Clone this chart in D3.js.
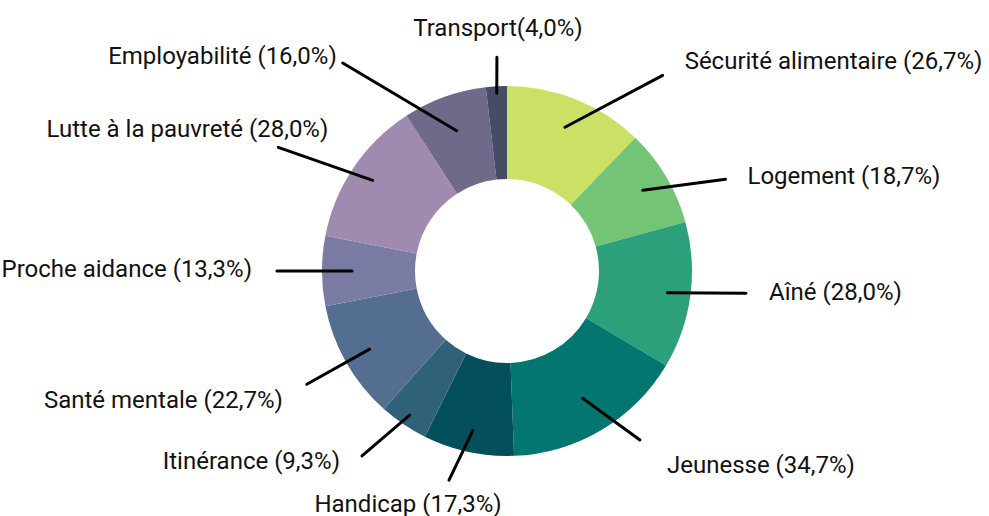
<!DOCTYPE html>
<html>
<head>
<meta charset="utf-8">
<script src="https://cdn.jsdelivr.net/npm/d3@7"></script>
<style>
  body { margin: 0; background: #fff; }
  text { font-family: Roboto, "Noto Sans", sans-serif; }
</style>
</head>
<body>
<div id="donut"></div>
<script>
// categories and their counts (percent of respondents shown in labels)
const categories = ["Sécurité alimentaire", "Logement", "Aîné", "Jeunesse", "Handicap", "Itinérance",
  "Santé mentale", "Proche aidance", "Lutte à la pauvreté", "Employabilité", "Transport"];
const counts = [20, 14, 21, 26, 13, 7, 17, 10, 21, 12, 3];
const percents = [26.7, 18.7, 28.0, 34.7, 17.3, 9.3, 22.7, 13.3, 28.0, 16.0, 4.0];
const colors = ["#cbe166", "#74c476", "#2ca07b", "#037670", "#03505c", "#2f6178",
  "#546e92", "#7a7ba3", "#a18ab0", "#6f6a8a", "#474c66"];

function draw() {
  const width = 989;
  const height = 516;
  const cx = 507, cy = 271;
  const outerR = 185, innerR = 92;

  const svg = d3.select("#donut")
    .append("svg")
    .attr("width", width)
    .attr("height", height)
    .attr("viewBox", [0, 0, width, height]);

  const chart = svg.append("g")
    .attr("transform", `translate(${cx}, ${cy})`);

  const pie = d3.pie().sort(null).value(d => d);
  const arcs = pie(counts);

  const arc = d3.arc().innerRadius(innerR).outerRadius(outerR);

  chart.selectAll("path.slice")
    .data(arcs)
    .join("path")
    .attr("class", "slice")
    .attr("d", arc)
    .attr("fill", (d, i) => colors[i]);

  // label placement: end of leader line (angle in degrees, radius),
  // start radius inside slice, text offset from line end and anchor
  const labelLayout = [
    {a: 38.5, r: 250, r0: 155, dx: 22, dy: -6, anchor: "start"},
    {a: 67.2, r: 237, r0: 158, dx: 22, dy: 5, anchor: "start"},
    {a: 95.3, r: 240, r0: 162, dx: 23, dy: 7, anchor: "start"},
    {a: 141.8, r: 215, r0: 148, dx: 27, dy: 33, anchor: "start"},
    {a: 195.5, r: 217, r0: 163, dx: -41, dy: 32, anchor: "middle"},
    {a: 218.1, r: 235, r0: 174, dx: -22, dy: 13, anchor: "end"},
    {a: 240.5, r: 230, r0: 158, dx: -24, dy: 24, anchor: "end"},
    {a: 270, r: 230, r0: 155, dx: -25, dy: 6, anchor: "end"},
    {a: 298.4, r: 260, r0: 162, dx: 50, dy: -10, anchor: "end"},
    {a: 321.7, r: 265, r0: 149, dx: -6, dy: 1, anchor: "end"},
    {a: 357.3, r: 214, r0: 178, dx: 1, dy: -21, anchor: "middle"}
  ];

  const polar = (deg, r) => {
    const t = deg * Math.PI / 180;
    return [r * Math.sin(t), -r * Math.cos(t)];
  };

  const fmt = v => d3.format(".1f")(v).replace(".", ",") + "%";
  const labelText = (c, i) => `${c}${c === "Transport" ? "" : " "}(${fmt(percents[i])})`;

  const labels = chart.selectAll("g.label")
    .data(arcs)
    .join("g")
    .attr("class", "label");

  labels.append("line")
    .each(function(d, i) {
      const L = labelLayout[i];
      const mid = (d.startAngle + d.endAngle) / 2 * 180 / Math.PI;
      const p0 = polar(mid, L.r0);
      const p1 = polar(L.a, L.r);
      d3.select(this)
        .attr("x1", p0[0]).attr("y1", p0[1])
        .attr("x2", p1[0]).attr("y2", p1[1]);
    })
    .attr("stroke", "#000")
    .attr("stroke-width", 3)
    .attr("stroke-linecap", "round");

  labels.append("text")
    .each(function(d, i) {
      const L = labelLayout[i];
      const p1 = polar(L.a, L.r);
      d3.select(this)
        .attr("x", p1[0] + L.dx)
        .attr("y", p1[1] + L.dy)
        .attr("text-anchor", L.anchor);
    })
    .attr("font-size", 24)
    .attr("fill", "#111")
    .text((d, i) => labelText(categories[i], i));
}

draw();
</script>
</body>
</html>
